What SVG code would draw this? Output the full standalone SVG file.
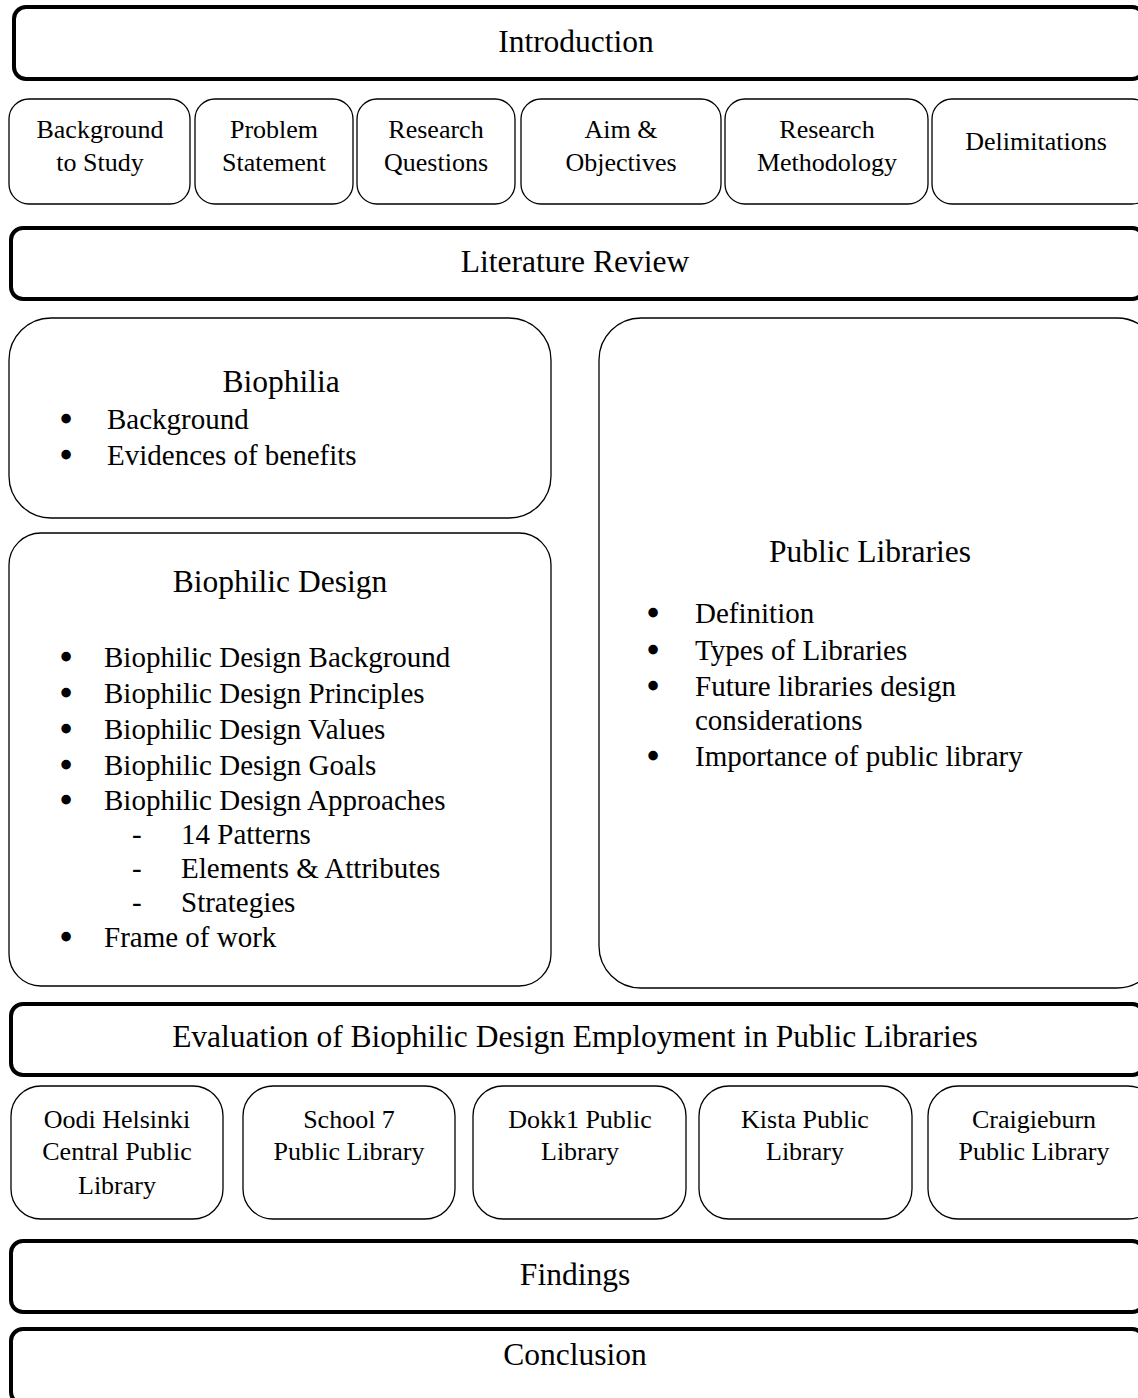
<svg xmlns="http://www.w3.org/2000/svg" width="1138" height="1398" viewBox="0 0 1138 1398">
<style>
text{font-family:"Liberation Serif","Times New Roman",serif;fill:#000}
.bar{fill:#fff;stroke:#000;stroke-width:4}
.box{fill:#fff;stroke:#000;stroke-width:1.3}
.h{font-size:31.5px;text-anchor:middle}
.s{font-size:26px;text-anchor:middle}
.b{font-size:29px}
.dot{font-size:29px;stroke:#000;stroke-width:2.6;text-anchor:middle}
</style>
<rect width="1138" height="1398" fill="#fff"/>
<g id="connectors"></g>

<g id="introduction">
<rect class="bar" x="14" y="7" width="1130" height="72" rx="12"/>
<text class="h" x="576" y="52">Introduction</text>
</g>

<g id="background">
<rect class="box" x="9" y="99" width="181" height="105" rx="20"/>
<text class="s" x="100" y="138">Background</text>
<text class="s" x="100" y="171">to Study</text>
</g>
<g id="problem">
<rect class="box" x="195" y="99" width="158" height="105" rx="20"/>
<text class="s" x="274" y="138">Problem</text>
<text class="s" x="274" y="171">Statement</text>
</g>
<g id="questions">
<rect class="box" x="357" y="99" width="158" height="105" rx="20"/>
<text class="s" x="436" y="138">Research</text>
<text class="s" x="436" y="171">Questions</text>
</g>
<g id="aim">
<rect class="box" x="521" y="99" width="200" height="105" rx="20"/>
<text class="s" x="621" y="138">Aim &amp;</text>
<text class="s" x="621" y="171">Objectives</text>
</g>
<g id="methodology">
<rect class="box" x="725" y="99" width="203" height="105" rx="20"/>
<text class="s" x="827" y="138">Research</text>
<text class="s" x="827" y="171">Methodology</text>
</g>
<g id="delimitations">
<rect class="box" x="932" y="99" width="220" height="105" rx="20"/>
<text class="s" x="1036" y="150">Delimitations</text>
</g>

<g id="literature">
<rect class="bar" x="11" y="228" width="1133" height="71" rx="12"/>
<text class="h" x="575" y="272">Literature Review</text>
</g>

<g id="biophilia">
<rect class="box" x="9" y="318" width="542" height="200" rx="42"/>
<text class="h" x="281" y="392">Biophilia</text>
<text class="dot" x="66" y="429">•</text><text class="b" x="107" y="429">Background</text>
<text class="dot" x="66" y="465">•</text><text class="b" x="107" y="465">Evidences of benefits</text>
</g>

<g id="biophilic-design">
<rect class="box" x="9" y="533" width="542" height="453" rx="32"/>
<text class="h" x="280" y="592">Biophilic Design</text>
<text class="dot" x="66" y="667">•</text><text class="b" x="104" y="667">Biophilic Design Background</text>
<text class="dot" x="66" y="703">•</text><text class="b" x="104" y="703">Biophilic Design Principles</text>
<text class="dot" x="66" y="739">•</text><text class="b" x="104" y="739">Biophilic Design Values</text>
<text class="dot" x="66" y="775">•</text><text class="b" x="104" y="775">Biophilic Design Goals</text>
<text class="dot" x="66" y="810">•</text><text class="b" x="104" y="810">Biophilic Design Approaches</text>
<text class="b" x="132" y="844">-</text><text class="b" x="181" y="844">14 Patterns</text>
<text class="b" x="132" y="878">-</text><text class="b" x="181" y="878">Elements &amp; Attributes</text>
<text class="b" x="132" y="912">-</text><text class="b" x="181" y="912">Strategies</text>
<text class="dot" x="66" y="947">•</text><text class="b" x="104" y="947">Frame of work</text>
</g>

<g id="public-libraries">
<rect class="box" x="599" y="318" width="560" height="670" rx="42"/>
<text class="h" x="870" y="562">Public Libraries</text>
<text class="dot" x="653" y="623">•</text><text class="b" x="695" y="623">Definition</text>
<text class="dot" x="653" y="660">•</text><text class="b" x="695" y="660">Types of Libraries</text>
<text class="dot" x="653" y="696">•</text><text class="b" x="695" y="696">Future libraries design</text>
<text class="b" x="695" y="730">considerations</text>
<text class="dot" x="653" y="766">•</text><text class="b" x="695" y="766">Importance of public library</text>
</g>

<g id="evaluation">
<rect class="bar" x="11" y="1004" width="1133" height="71" rx="12"/>
<text class="h" x="575" y="1047">Evaluation of Biophilic Design Employment in Public Libraries</text>
</g>

<g id="oodi">
<rect class="box" x="11" y="1086" width="212" height="133" rx="30"/>
<text class="s" x="117" y="1128">Oodi Helsinki</text>
<text class="s" x="117" y="1160">Central Public</text>
<text class="s" x="117" y="1194">Library</text>
</g>
<g id="school7">
<rect class="box" x="243" y="1086" width="212" height="133" rx="30"/>
<text class="s" x="349" y="1128">School 7</text>
<text class="s" x="349" y="1160">Public Library</text>
</g>
<g id="dokk1">
<rect class="box" x="473" y="1086" width="213" height="133" rx="30"/>
<text class="s" x="580" y="1128">Dokk1 Public</text>
<text class="s" x="580" y="1160">Library</text>
</g>
<g id="kista">
<rect class="box" x="699" y="1086" width="213" height="133" rx="30"/>
<text class="s" x="805" y="1128">Kista Public</text>
<text class="s" x="805" y="1160">Library</text>
</g>
<g id="craigieburn">
<rect class="box" x="928" y="1086" width="230" height="133" rx="30"/>
<text class="s" x="1034" y="1128">Craigieburn</text>
<text class="s" x="1034" y="1160">Public Library</text>
</g>

<g id="findings">
<rect class="bar" x="11" y="1241" width="1133" height="71" rx="12"/>
<text class="h" x="575" y="1285">Findings</text>
</g>

<g id="conclusion">
<rect class="bar" x="11" y="1329" width="1133" height="75" rx="12"/>
<text class="h" x="575" y="1365">Conclusion</text>
</g>
</svg>
